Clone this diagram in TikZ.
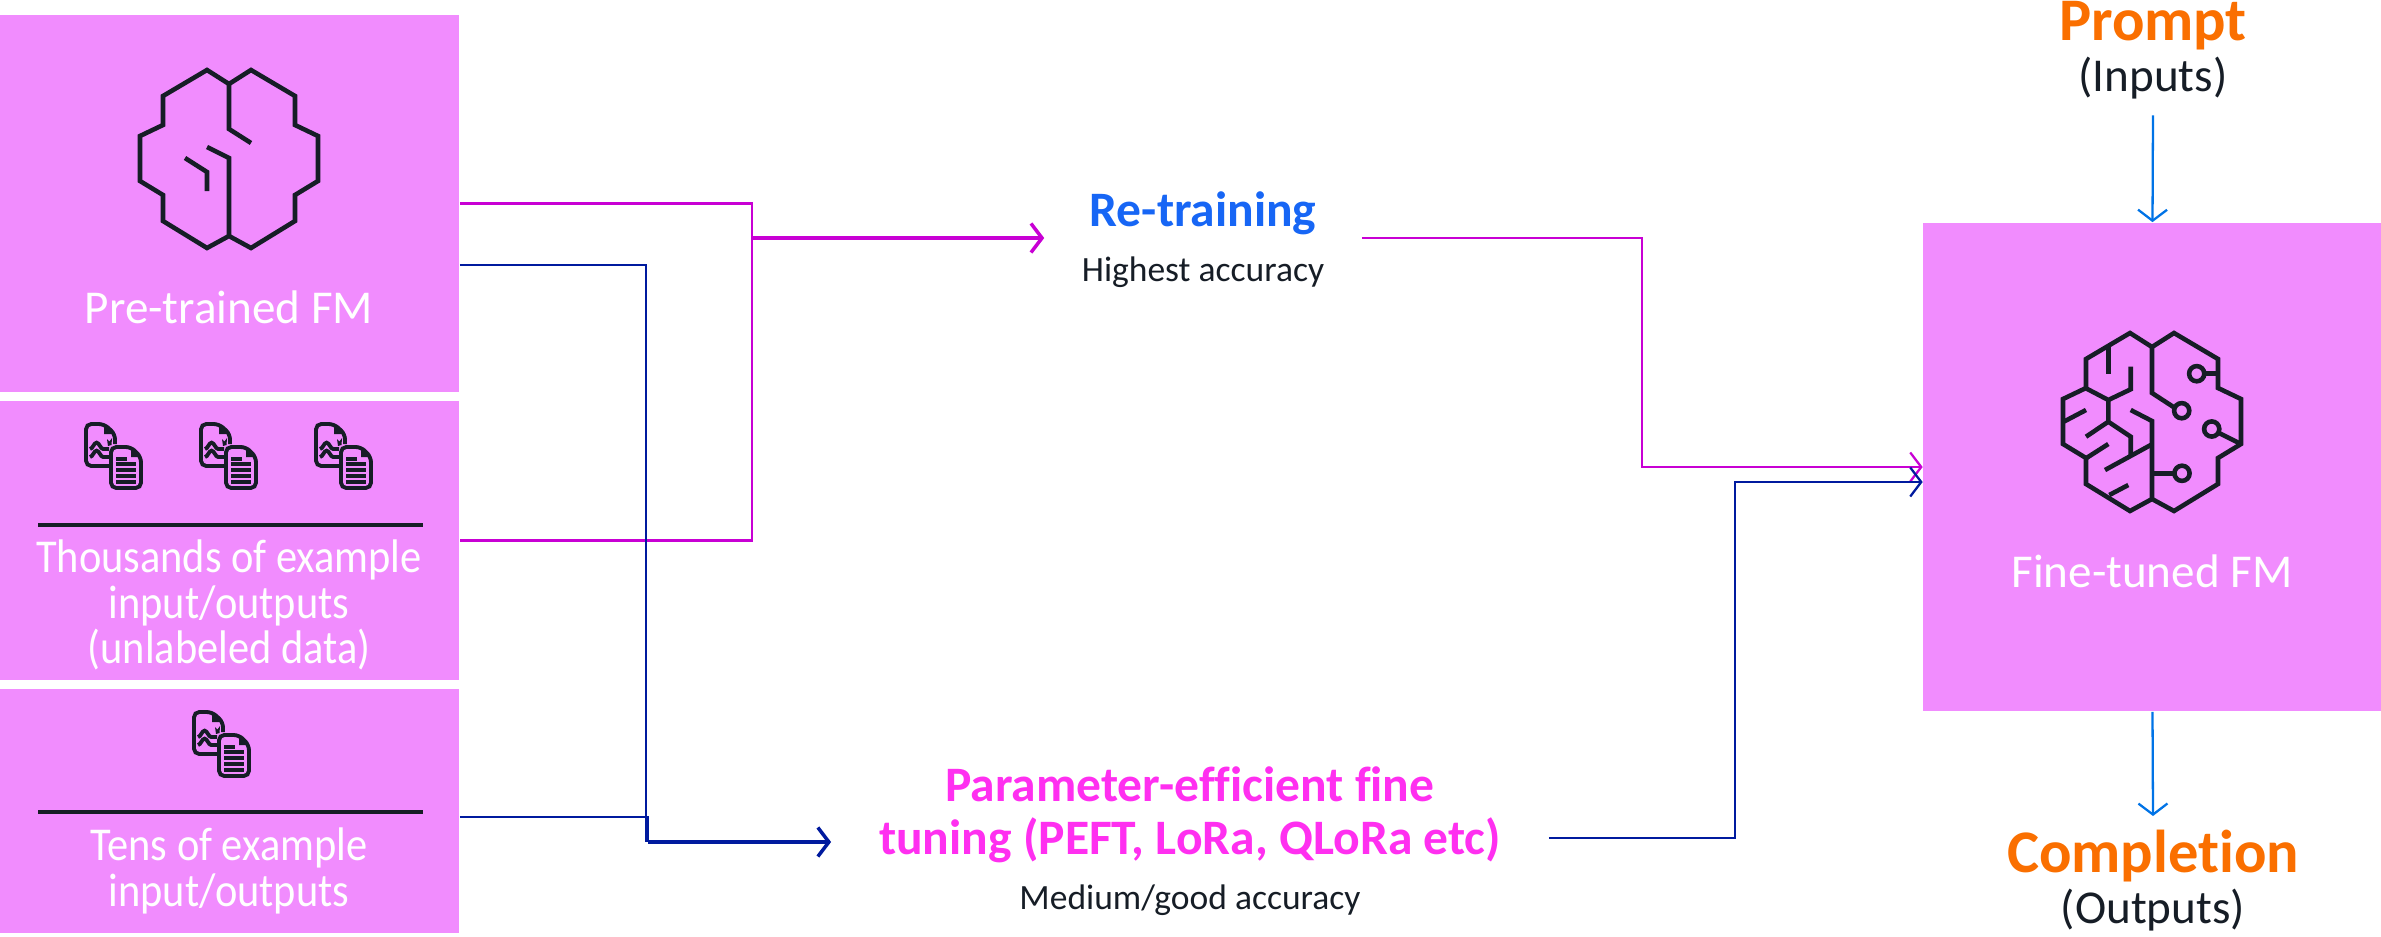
\documentclass[tikz,border=0pt]{standalone}
\usepackage{fontspec}
\setmainfont[Ligatures=NoCommon]{Carlito}
\newfontfamily\narrowfont[FakeStretch=.9,Ligatures=NoCommon]{Carlito}
\usetikzlibrary{arrows.meta,decorations.pathmorphing}
\definecolor{boxpink}{HTML}{F18CFE}
\definecolor{inkdark}{HTML}{161D26}
\definecolor{linepurple}{HTML}{C800D4}
\definecolor{linenavy}{HTML}{001A9E}
\definecolor{lineblue}{HTML}{0073E6}
\definecolor{headblue}{HTML}{1766F5}
\definecolor{headpink}{HTML}{FF2FF0}
\definecolor{headorange}{HTML}{FA6F00}
\tikzset{
  fmbox/.style={fill=boxpink,inner sep=0pt,minimum width=4.59cm},
  boxtext/.style={text=white,align=center,inner sep=0pt,font=\fontsize{13.4}{13}\selectfont},
  narrowtext/.style={text=white,align=center,inner sep=0pt,font=\fontsize{13.4}{13}\narrowfont},
  subtext/.style={text=inkdark,inner sep=0pt,anchor=base,font=\fontsize{10.1}{13}\selectfont},
  iotext/.style={text=inkdark,inner sep=0pt,anchor=base,font=\fontsize{13.4}{13}\selectfont},
  iohead/.style={text=headorange,inner sep=0pt,anchor=base,font=\fontsize{17.2}{20}\selectfont\bfseries},
  methodhead/.style={inner sep=0pt,align=center,font=\fontsize{14.1}{15}\selectfont\bfseries},
  purpleline/.style={draw=linepurple,line width=.65pt},
  navyline/.style={draw=linenavy,line width=.65pt},
  blueline/.style={draw=lineblue,line width=.65pt},
  iconline/.style={draw=inkdark,line width=1.3pt},
  docline/.style={draw=inkdark,line width=1.1pt},
  brainshape/.pic={
    \draw[iconline,line join=miter] (0,0)--(-22,-14)--(-66,12)--(-66,41)--(-89,52)--(-89,97)--(-66,111)--(-66,137)--(-22,164)--(0,152)
      --(22,164)--(66,137)--(66,111)--(89,97)--(89,52)--(66,41)--(66,12)--(22,-14)--cycle;
  },
  docpair/.pic={
    \draw[docline,rounded corners=1.5] (25,44)--(1,44)--(1,2)--(19,2)--(30,12)--(30,22);
    \draw[docline,rounded corners=1.5] (26,25)--(46,25)--(56,35)--(56,66)--(26,66)--cycle;
    \fill[inkdark] (19,2)--(19,12)--(30,12)--cycle;
    \fill[inkdark] (46,25)--(46,35)--(56,35)--cycle;
    \draw[docline,decorate,decoration={snake,segment length=6,amplitude=1.8}] (5,27)--(24,27);
    \draw[docline,decorate,decoration={snake,segment length=6,amplitude=1.8}] (5,35)--(24,35);
    \fill[inkdark] (22,17)--(24.5,19.5)--(27,16)--(26.5,23)--(23,24)--cycle;
    \draw[docline] (31,37)--(42,37);
    \foreach \y in {42,48,54,60}
      \draw[docline] (31,\y)--(51,\y);
  }
}
\begin{document}
\begin{tikzpicture}[x=.01cm,y=-.01cm,>={Straight Barb[length=1.1mm,width=2.9mm]}]
\useasboundingbox (0,0) rectangle (2381,936);

% boxes on the left and the result on the right
\node (pre) at (229.5,203.5) [fmbox,minimum height=3.77cm] {};
\node (data) at (229.5,540.5) [fmbox,minimum height=2.79cm] {};
\node (tens) at (229.5,811) [fmbox,minimum height=2.44cm] {};
\node (tuned) at (2152.5,467) [fmbox,minimum width=4.58cm,minimum height=4.88cm] {};

% brains
\pic at (229,84) {brainshape};
\pic at (2152,347) {brainshape};
\draw[iconline] (229,84)--(229,129)--(251,143);
\draw[iconline] (229,235)--(229,158)--(207,147);
\draw[iconline] (185,158)--(207,172)--(207,191);

\draw[iconline] (2152,347)--(2152,393)--(2175,408);
\draw[iconline] (2152,499)--(2152,421)--(2130.7,410);
\draw[iconline] (2181.7,410.7) circle (7.6);
\draw[iconline] (2196.7,373.7) circle (7.6);
\draw[iconline] (2204.3,373.7)--(2219.3,373.7);
\draw[iconline] (2211.7,429) circle (7.6);
\draw[iconline] (2219,433)--(2241.7,444.3);
\draw[iconline] (2182,473.3) circle (7.6);
\draw[iconline] (2152,473.3)--(2174.4,473.3);
\draw[iconline] (2108.3,346.7)--(2108.3,374);
\draw[iconline] (2130.7,366.7)--(2130.7,389.3)--(2108.3,400)--(2086,388.3);
\draw[iconline] (2108.3,400)--(2108.3,421.7)--(2130.7,436.7)--(2130.7,456.7);
\draw[iconline] (2063.7,421.7)--(2086,410);
\draw[iconline] (2108.3,421.7)--(2086,436.7);
\draw[iconline] (2086,458.3)--(2108.3,444);
\draw[iconline] (2152,444.3)--(2105,470);
\draw[iconline] (2109.3,495)--(2128.3,485);

% documents
\foreach \x in {85,200,315}
{
    \pic at (\x,422) {docpair};
}
\pic at (193,710) {docpair};
\draw[iconline] (38,525)--(423,525);
\draw[iconline] (38,812)--(423,812);

% texts in the boxes
\node (prelabel) at (229,307) [boxtext] {Pre-trained FM};
\node (datalabel) at (229,605) [narrowtext] {Thousands of example\\input/outputs\\(unlabeled data)};
\node (tenslabel) at (229,871) [narrowtext] {Tens of example\\input/outputs};
\node (tunedlabel) at (2152,571) [boxtext] {Fine-tuned FM};

% methods
\node (retrain) at (1203,213) [methodhead,text=headblue,minimum width=3.16cm] {Re-training};
\node (retrainnote) at (1203,281) [subtext] {Highest accuracy};
\node (peft) at (1190,815) [methodhead,text=headpink,minimum width=7.16cm] {Parameter-efficient fine\\tuning (PEFT, LoRa, QLoRa etc)};
\node (peftnote) at (1190,909) [subtext] {Medium/good accuracy};

% input and output
\node (prompt) at (2153,40) [iohead] {Prompt};
\node (inputs) at (2153,91) [iotext] {(Inputs)};
\node (completion) at (2153,872) [iohead] {Completion};
\node (outputs) at (2153,923) [iotext] {(Outputs)};

\coordinate (retrainjoin) at (752,238);
\coordinate (peftjoin) at (648,842);

\draw[purpleline] (pre.east)-|(retrainjoin)|-(data.east);
\draw[purpleline,line width=1pt,->] (retrainjoin)--(retrainjoin-|retrain.west);
\draw[purpleline,->] (retrainjoin-|retrain.east)-|(1642,350)|-(tuned.west);
\draw[navyline] ([yshift=-.615cm]pre.east)-|(646,842);
\draw[navyline] ([yshift=-.06cm]tens.east)-|(peftjoin);
\draw[navyline,line width=1pt,->] (peftjoin)--(peftjoin-|peft.west);
\draw[navyline,->] ([yshift=-.23cm]peft.east)-|(1735,650)|-([yshift=-.15cm]tuned.west);
\draw[blueline,->] (inputs.south)+(0,16)--(tuned.north);
\draw[blueline,->] (tuned.south)--(2153,816);

\end{tikzpicture}
\end{document}
